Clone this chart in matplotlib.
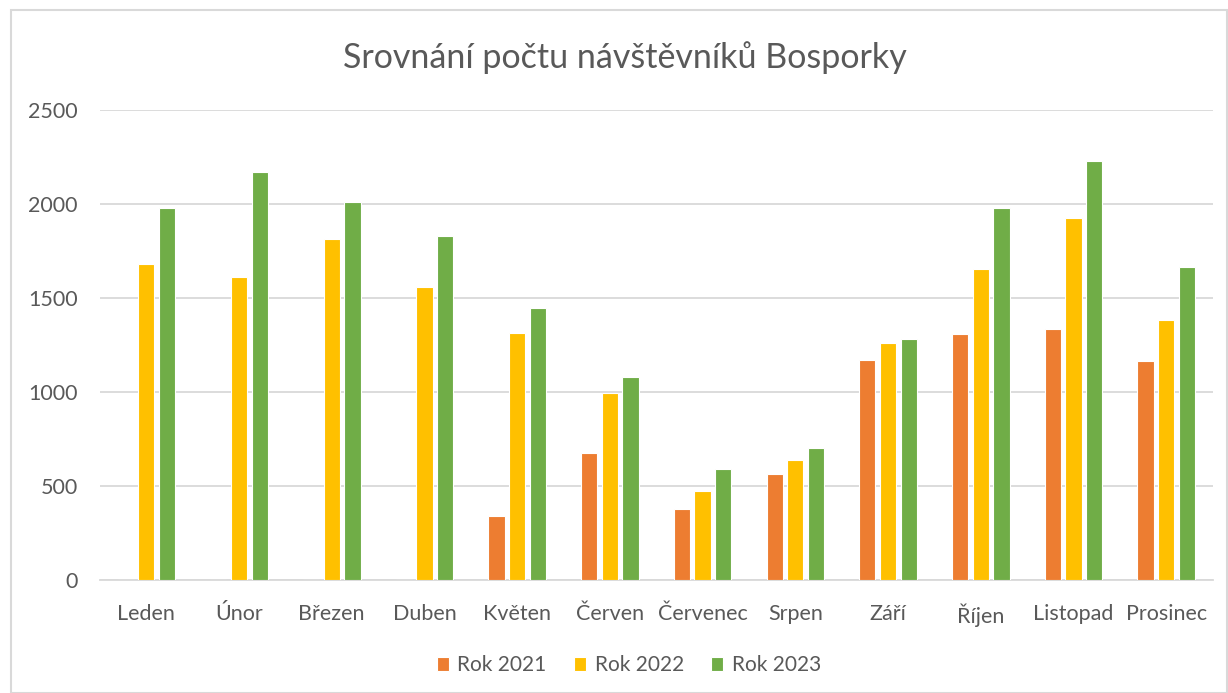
import numpy as np
import matplotlib
matplotlib.use('Agg')
import matplotlib.pyplot as plt
from matplotlib.patches import Rectangle

months = ['Leden', 'Únor', 'Březen', 'Duben', 'Květen', 'Červen', 'Červenec',
          'Srpen', 'Září', 'Říjen', 'Listopad', 'Prosinec']
rok_2021 = [0, 0, 0, 0, 339, 675, 380, 565, 1171, 1308, 1335, 1164]
rok_2022 = [1682, 1615, 1814, 1560, 1315, 994, 476, 639, 1260, 1656, 1929, 1382]
rok_2023 = [1977, 2169, 2011, 1833, 1445, 1083, 591, 701, 1281, 1977, 2229, 1668]
series_labels = ['Rok 2021', 'Rok 2022', 'Rok 2023']
yticks = [0, 500, 1000, 1500, 2000, 2500]

colors = ['#ED7D31', '#FFC000', '#70AD47']
grey = '#595959'
plt.rcParams['font.family'] = ['Lato', 'DejaVu Sans']

fig = plt.figure(figsize=(12.28, 6.93), dpi=100)
ax = fig.add_axes([0.0814, 0.163, 0.906, 0.678])

x = np.arange(len(months))
step = 0.223
w = 0.175
for i, (vals, lab) in enumerate(zip([rok_2021, rok_2022, rok_2023], series_labels)):
    ax.bar(x + (i - 1) * step, vals, width=w, color=colors[i], label=lab,
           edgecolor='white', linewidth=0.8, zorder=3)

ax.set_xlim(-0.5, len(months) - 0.5)
ax.set_ylim(0, 2500)
ax.set_yticks(yticks)
ax.set_xticks(x)
ax.set_xticklabels(months)
ax.tick_params(axis='both', length=0, colors=grey, labelsize=15.5)
ax.tick_params(axis='x', pad=17)
ax.tick_params(axis='y', pad=16)
ax.grid(axis='y', color='#D9D9D9', linewidth=1.3, zorder=0)
for s in ['top', 'right', 'left']:
    ax.spines[s].set_visible(False)
ax.spines['bottom'].set_color('#D9D9D9')
ax.spines['bottom'].set_linewidth(1.3)

fig.text(0.509, 0.917, 'Srovnání počtu návštěvníků Bosporky', ha='center', va='center',
         fontsize=24.5, color=grey)

fig.legend(loc='center', bbox_to_anchor=(0.512, 0.04), ncol=3, frameon=False,
           fontsize=15, labelcolor=grey, handlelength=0.6, handleheight=0.6,
           handletextpad=0.4, columnspacing=1.3)

fig.patches.append(Rectangle((0.009, 0.0), 0.99, 0.985, transform=fig.transFigure,
                             fill=False, edgecolor='#D9D9D9', linewidth=1.5))

fig.savefig('out.png', dpi=100)
